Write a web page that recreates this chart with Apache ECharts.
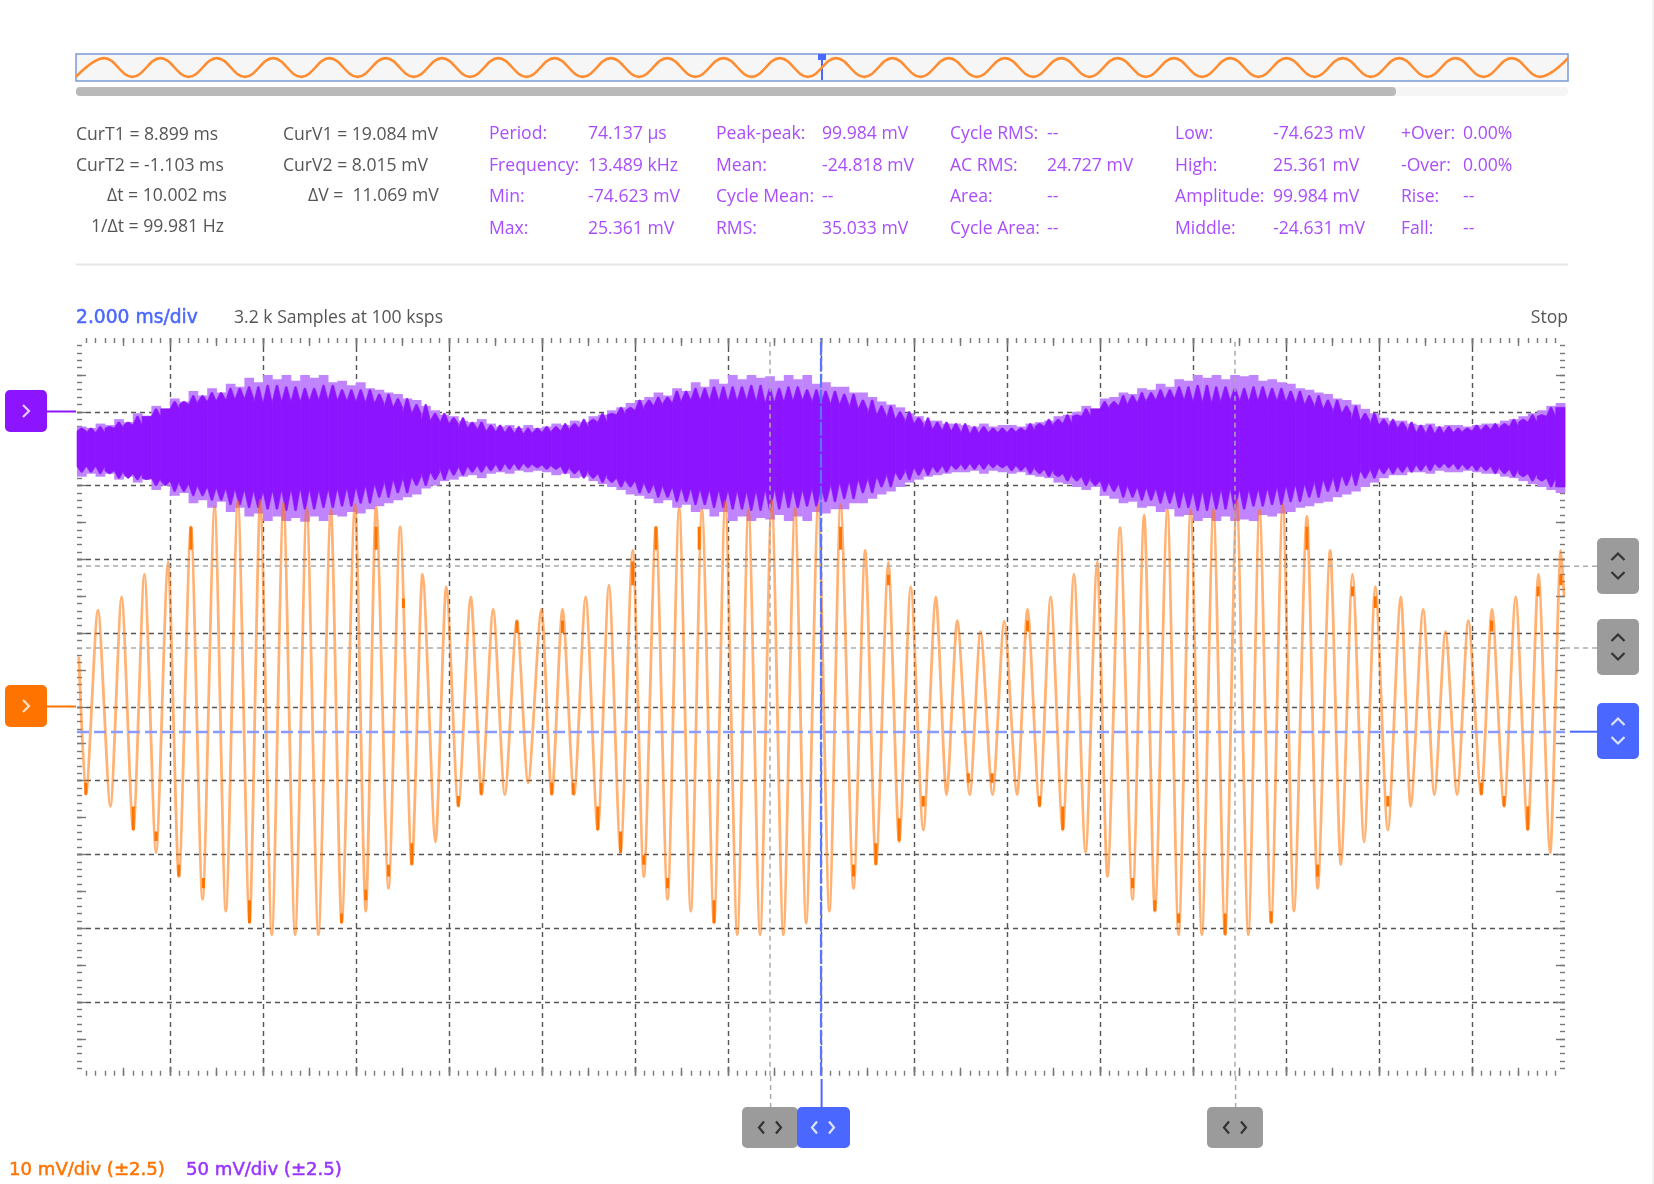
<!DOCTYPE html>
<html>
<head>
<meta charset="utf-8">
<title>Scope capture</title>
<script src="https://cdn.jsdelivr.net/npm/echarts@6/dist/echarts.min.js"></script>
<style>
html, body { margin: 0; padding: 0; background: #fff; }
#chart { width: 1654px; height: 1184px; }
</style>
</head>
<body>
<div id="chart"></div>
<script>
/* ── Readouts ── */
var cursorLines = [
  ['CurT1 = 8.899 ms', 76, 135], ['CurT2 = -1.103 ms', 76, 166],
  ['\u0394t = 10.002 ms', 107, 196], ['1/\u0394t = 99.981 Hz', 91, 227],
  ['CurV1 = 19.084 mV', 283, 135], ['CurV2 = 8.015 mV', 283, 166],
  ['\u0394V =  11.069 mV', 308, 196]
];
var statLabels = [
  ['Period:', 'Frequency:', 'Min:', 'Max:'],
  ['Peak-peak:', 'Mean:', 'Cycle Mean:', 'RMS:'],
  ['Cycle RMS:', 'AC RMS:', 'Area:', 'Cycle Area:'],
  ['Low:', 'High:', 'Amplitude:', 'Middle:'],
  ['+Over:', '-Over:', 'Rise:', 'Fall:']
];
var statValues = [
  ['74.137 \u00b5s', '13.489 kHz', '-74.623 mV', '25.361 mV'],
  ['99.984 mV', '-24.818 mV', '--', '35.033 mV'],
  ['--', '24.727 mV', '--', '--'],
  ['-74.623 mV', '25.361 mV', '99.984 mV', '-24.631 mV'],
  ['0.00%', '0.00%', '--', '--']
];

/* ── Cursors: ms on the time axis, mV on the orange channel ── */
var triggerT = 0, cursorT1 = 8.899, cursorT2 = -1.103;
var triggerV = -3.35, cursorV1 = 19.084, cursorV2 = 8.015;

/* ── Overview strip, turning points ── */
var overviewWave = [
  -1,1,-1,1,-1,1,-1,1,-1,1,-1,1,-1,1,-1,1,-1,1,-1,1,-1,1,-1,1,-1,1,-1,
  1,-1,1,-1,1,-1,1,-1,1,-1,1,-1,1,-1,1,-1,1,-1,1,-1,1,-1,1,-1,1,-1,1
];

/* ── Orange channel: turning points (ms, mV) ── */
var orangeT = [
  -15.96,-15.81,-15.55,-15.28,-15.04,-14.79,-14.55,-14.30,-14.04,-13.81,-13.55,-13.30,-13.04,-12.80,-12.54,-12.29,
  -12.06,-11.81,-11.56,-11.31,-11.06,-10.81,-10.54,-10.31,-10.02,-9.79,-9.57,-9.30,-9.05,-8.80,-8.57,-8.29,-8.06,
  -7.80,-7.53,-7.30,-7.05,-6.80,-6.54,-6.30,-6.01,-5.79,-5.56,-5.31,-5.06,-4.80,-4.56,-4.31,-4.05,-3.81,-3.55,-3.30,
  -3.05,-2.80,-2.56,-2.30,-2.06,-1.80,-1.56,-1.31,-1.06,-0.81,-0.56,-0.32,-0.06,
  0.18,0.42,0.70,0.95,1.18,1.45,1.68,1.93,2.20,2.47,2.70,2.93,3.20,3.43,3.69,3.94,4.22,4.44,4.70,4.94,5.20,5.44,5.69,
  5.94,6.16,6.43,6.70,6.95,7.18,7.45,7.69,7.95,8.19,8.44,8.69,8.94,9.19,9.43,9.68,9.93,10.17,10.45,10.68,10.95,11.18,
  11.43,11.68,11.92,12.19,12.47,12.68,12.95,13.19,13.43,13.68,13.92,14.20,14.43,14.69,14.94,15.20,15.43,15.68,15.91,15.98
];
var orangeV = [
  6.8,-11.9,13.1,-13.5,14.9,-16.7,18.0,-19.8,19.6,-23.0,24.4,-26.1,27.1,-27.7,27.9,-29.3,
  28.0,-30.9,27.6,-30.9,26.9,-30.9,26.7,-29.3,27.4,-27.7,27.1,-24.6,24.4,-21.4,18.0,-18.3,16.3,
  -13.5,14.9,-11.9,13.2,-11.9,11.7,-10.3,13.2,-11.9,13.2,-11.9,14.9,-16.7,16.5,-19.8,21.2,-23.0,24.4,-26.1,
  26.9,-27.7,26.7,-29.3,27.8,-30.9,26.7,-30.9,28.0,-30.9,26.9,-29.3,27.4,
  -27.7,27.4,-24.6,21.2,-21.4,19.6,-18.3,16.3,-16.7,14.9,-11.9,11.7,-11.9,10.2,-11.9,11.6,-11.9,13.2,-13.5,14.9,-16.7,18.0,-19.8,
  19.6,-23.0,24.3,-26.1,26.0,-27.7,26.7,-30.9,26.7,-30.9,26.7,-30.9,28.0,-30.9,26.7,-29.3,27.4,-27.7,25.8,-24.6,21.2,-21.4,
  18.0,-18.3,16.3,-16.7,14.9,-13.5,13.2,-11.9,10.2,-11.9,11.7,-11.9,13.2,-13.5,14.9,-16.7,18.0,-19.8,21.2,15.0
];

/* short solid runs on the orange trace (ms, mV top, mV bottom) */
var runT = [
  -15.81,-14.79,-14.30,-13.81,-13.55,-13.28,-12.29,-10.31,-9.79,-9.57,-9.30,-8.98,-8.80,
  -7.80,-7.31,-6.54,-5.79,-5.56,-5.33,-4.80,-4.31,-4.05,-3.81,-3.55,-3.30,-2.62,-2.30,
  0.42,0.70,1.18,1.45,1.68,2.20,3.17,3.68,4.44,4.70,5.20,6.70,7.18,7.69,
  8.69,9.68,10.45,10.68,11.43,11.92,12.19,14.20,14.42,14.69,15.20,15.42,15.91
];
var runHi = [
  -10.3,-13.5,-16.9,-21.4,24.4,-23.2,-26.2,-28.0,-24.8,24.4,-21.4,14.7,-18.5,
  -12.1,-10.3,11.7,-10.3,11.7,-10.3,-13.5,-16.9,19.7,-20.1,24.4,-23.2,24.4,-26.2,
  24.4,-21.4,-18.5,17.9,-15.1,-12.1,-9.0,-9.0,11.7,-12.1,-13.5,-23.2,-26.2,-28.0,
  -28.0,-27.7,24.4,-21.4,16.3,15.0,-12.1,-10.3,11.7,-12.1,-13.5,16.3,17.9
];
var runLo = [
  -11.9,-16.7,-18.2,-23.0,21.3,-24.6,-29.3,-29.3,-26.2,21.3,-23.0,13.4,-21.4,
  -13.5,-11.9,10.0,-11.9,10.0,-11.9,-16.7,-19.8,16.5,-21.4,21.3,-24.6,21.3,-29.3,
  21.3,-23.0,-21.4,16.5,-18.2,-13.5,-10.3,-10.3,10.2,-13.5,-16.7,-24.6,-27.7,-29.3,
  -30.9,-29.3,21.3,-23.0,15.0,13.4,-13.5,-11.9,10.2,-13.5,-16.7,15.0,16.5
];

/* ── Purple channel: envelope per 0.2 ms column, starting at -16 ms (mV) ── */
var purpleStep = 0.2;
var purpleOuterTop = [
  -10,-11,-8,-9,-5,-7,-1,-3,4,2,9,7,14,11,16,13,19,17,23,20,25,22,25,21,25,23,25,20,21,18,20,16,15,13,12,9,8,4,1,-2,-3,-6,-7,-5,-8,-10,-9,-11,-9,-11,
  -10,-8,-9,-6,-7,-3,-2,1,3,6,8,10,13,11,16,14,20,17,22,19,25,22,25,23,24,21,25,22,25,19,20,17,17,13,13,10,7,5,3,-1,-3,-6,-6,-8,-8,-9,-10,-8,-10,-9,
  -9,-10,-8,-7,-6,-3,-2,0,4,2,9,10,13,12,16,15,19,17,22,21,25,23,25,22,25,24,25,21,22,20,19,16,15,13,12,9,8,5,2,-1,-4,-6,-6,-8,-9,-8,-10,-9,-9,-10,
  -9,-8,-8,-6,-5,-3,-1,1,4,6
];
var purpleOuterBot = [
  -44,-42,-44,-42,-46,-44,-48,-46,-53,-50,-57,-55,-62,-60,-65,-61,-68,-65,-71,-69,-74,-71,-74,-72,-74.6,-71,-74,-70,-71,-68,-69,-66,-64,-62,-60,-58,-56,-52,-50,-47,-46,-44,-43,-45,-42,-41,-42,-40,-41,-40,
  -41,-43,-42,-45,-44,-47,-49,-51,-53,-56,-57,-59,-62,-60,-65,-63,-68,-66,-71,-68,-74,-71,-74,-72,-73,-70,-74,-71,-74,-68,-69,-66,-66,-62,-62,-59,-56,-54,-51,-48,-46,-44,-43,-42,-41,-41,-40,-42,-40,-41,
  -42,-41,-43,-44,-45,-48,-49,-51,-53,-51,-57,-59,-62,-61,-65,-64,-68,-66,-71,-70,-74,-72,-74,-71,-74,-73,-74,-70,-71,-69,-68,-65,-64,-62,-61,-58,-56,-54,-51,-48,-45,-43,-43,-41,-41,-42,-40,-41,-41,-40,
  -41,-42,-42,-44,-45,-47,-49,-51,-53,-55
];
var purpleInnerTop = [
  -13,-11,-14,-10,-11,-7,-9,-3,-3,2,2,7,5,11,7,13,8,16,9,17,6,18,7,17,7,16,8,18,8,15,7,15,6,12,3,9,-1,5,-6,-1,-8,-4,-11,-7,-13,-9,-14,-10,-15,-11,
  -14,-10,-13,-8,-11,-5,-7,-1,-2,3,1,8,4,10,6,14,8,16,8,17,7,17,8,18,6,16,7,17,8,15,6,14,5,12,2,8,-2,4,-5,0,-8,-4,-12,-7,-13,-8,-15,-10,-14,-11,
  -14,-11,-13,-8,-10,-5,-8,-2,-3,2,2,7,4,11,6,13,8,15,9,17,7,18,6,17,8,16,7,17,8,16,7,14,5,11,2,8,-1,4,-6,-1,-9,-5,-11,-7,-14,-9,-15,-10,-14,-11,
  -13,-9,-12,-8,-10,-5,-7,-2,-3,3
];
var purpleInnerBot = [
  -37,-41,-37,-42,-40,-45,-42,-46,-45,-50,-47,-54,-49,-57,-51,-60,-52,-63,-53,-65,-54,-66,-53,-67,-52,-66,-53,-65,-52,-64,-51,-62,-49,-58,-46,-55,-44,-50,-41,-46,-38,-43,-37,-41,-36,-40,-35,-39,-35,-38,
  -36,-39,-37,-42,-39,-45,-42,-48,-45,-51,-47,-55,-49,-58,-51,-61,-52,-63,-53,-65,-53,-66,-54,-67,-53,-66,-52,-65,-53,-64,-51,-61,-48,-59,-46,-55,-44,-51,-41,-46,-38,-43,-37,-41,-36,-39,-35,-39,-35,-38,
  -36,-40,-37,-42,-39,-44,-42,-47,-44,-50,-47,-54,-49,-58,-51,-60,-52,-62,-53,-65,-54,-67,-53,-66,-52,-66,-53,-64,-52,-63,-50,-61,-49,-58,-46,-54,-43,-50,-40,-45,-38,-42,-37,-41,-36,-40,-35,-38,-35,-39,
  -36,-40,-37,-42,-39,-44,-42,-47,-45,-51
];

/* ── Colours ── */
var ORANGE = '#ff7300', PURPLE = '#8c14ff', BLUE = '#4a68ff', GREY_BTN = '#9b9b9b';
var TEXT = '#555', STAT = '#a94dff', FONT = '"Open Sans"';

/* ── Layout of the scope area ── */
var PLOT = { left: 77, top: 338, width: 1488, height: 737.7 };

function textEl(str, x, y, fill, font, align, stroke) {
  return { type: 'text', silent: true, style: { text: str, x: x, y: y, fill: fill, font: font, align: align || 'left', verticalAlign: 'middle', stroke: stroke || null, lineWidth: stroke ? 0.5 : 0 } };
}
function lineEl(x1, y1, x2, y2, color, width, dash) {
  return { type: 'line', silent: true, shape: { x1: x1, y1: y1, x2: x2, y2: y2 }, style: { stroke: color, lineWidth: width, lineDash: dash || null } };
}
function btnEl(x, y, w, h, fill) {
  return { type: 'rect', silent: true, shape: { x: x, y: y, width: w, height: h, r: 5 }, style: { fill: fill } };
}
function chevron(points, color) {
  return { type: 'polyline', silent: true, shape: { points: points }, style: { stroke: color, lineWidth: 2.2, fill: null } };
}
function upDown(cx, cy, color) {
  return [
    chevron([[cx - 6.5, cy - 6], [cx, cy - 12.5], [cx + 6.5, cy - 6]], color),
    chevron([[cx - 6.5, cy + 6], [cx, cy + 12.5], [cx + 6.5, cy + 6]], color)
  ];
}
function leftRight(cx, cy, color) {
  return [
    chevron([[cx - 6, cy - 6], [cx - 11, cy], [cx - 6, cy + 6]], color),
    chevron([[cx + 6, cy - 6], [cx + 11, cy], [cx + 6, cy + 6]], color)
  ];
}

/* ── Everything around the plot: text, scrollbar, handles ── */
function buildChrome() {
  var g = [];
  var baseFont = '17.6px ' + FONT;
  var headFont = '18.7px "DejaVu Sans"';
  var scaleFont = '18.1px "DejaVu Sans"';
  cursorLines.forEach(function(r) { g.push(textEl(r[0], r[1], r[2], TEXT, baseFont)); });

  var labelX = [489, 716, 950, 1175, 1401], valueX = [588, 822, 1047, 1273, 1463];
  var rowY = [134, 166, 197, 229];
  statLabels.forEach(function(col, c) {
    col.forEach(function(label, r) {
      g.push(textEl(label, labelX[c], rowY[r], STAT, baseFont));
      g.push(textEl(statValues[c][r], valueX[c], rowY[r], STAT, baseFont));
    });
  });

  // scrollbar + separator
  g.push({ type: 'rect', silent: true, shape: { x: 76, y: 87, width: 1492, height: 9, r: 4 }, style: { fill: '#f5f5f5' } });
  g.push({ type: 'rect', silent: true, shape: { x: 76, y: 87, width: 1320, height: 9, r: 4 }, style: { fill: '#b9b9b9' } });
  g.push(lineEl(76, 264.5, 1568, 264.5, '#e6e6e6', 2));
  g.push({ type: 'rect', silent: true, shape: { x: 1652, y: 0, width: 2, height: 1184 }, style: { fill: '#f2f2f2' } });

  // overview cursor
  g.push(lineEl(822, 55, 822, 80, BLUE, 2));
  g.push({ type: 'rect', silent: true, shape: { x: 818, y: 54, width: 8, height: 6 }, style: { fill: BLUE } });

  // heading line
  g.push(textEl('2.000 ms/div', 76, 318, BLUE, headFont, 'left', BLUE));
  g.push(textEl('3.2 k Samples at 100 ksps', 234, 318, TEXT, baseFont));
  g.push(textEl('Stop', 1568, 318, TEXT, baseFont, 'right'));

  // channel handles, left
  g.push(lineEl(47, 411.5, 76, 411.5, PURPLE, 2));
  g.push(lineEl(47, 706.5, 76, 706.5, ORANGE, 2));
  g.push(btnEl(5, 390, 42, 42, PURPLE));
  g.push(btnEl(5, 685, 42, 42, ORANGE));
  g.push(chevron([[23, 405], [29, 411], [23, 417]], '#e4ccff'));
  g.push(chevron([[23, 700], [29, 706], [23, 712]], '#ffe0c4'));

  // level handles, right
  g.push(lineEl(1565, 566.3, 1597, 566.3, '#aaa', 1.5, [5, 4]));
  g.push(lineEl(1565, 648, 1597, 648, '#aaa', 1.5, [5, 4]));
  g.push(lineEl(1570, 731.7, 1597, 731.7, BLUE, 2));
  g.push(btnEl(1597, 538, 42, 56, GREY_BTN));
  g.push(btnEl(1597, 619, 42, 56, GREY_BTN));
  g.push(btnEl(1597, 703, 42, 56, BLUE));
  g = g.concat(upDown(1618, 566, '#333'), upDown(1618, 647, '#333'), upDown(1618, 731, '#dde3ff'));

  // time handles, bottom
  g.push(lineEl(770.6, 1076, 770.6, 1107, '#aaa', 1.5, [5, 4]));
  g.push(lineEl(1235.6, 1076, 1235.6, 1107, '#aaa', 1.5, [5, 4]));
  g.push(lineEl(821.6, 1079, 821.6, 1107, BLUE, 2));
  g.push(btnEl(742, 1107, 56, 41, GREY_BTN));
  g.push(btnEl(1207, 1107, 56, 41, GREY_BTN));
  g.push(btnEl(797, 1107, 53, 41, BLUE));
  g = g.concat(leftRight(770, 1127.5, '#333'), leftRight(1235, 1127.5, '#333'), leftRight(823, 1127.5, '#dde3ff'));

  // channel scales
  g.push(textEl('10 mV/div (\u00b12.5)', 9, 1170, ORANGE, scaleFont, 'left', ORANGE));
  g.push(textEl('50 mV/div (\u00b12.5)', 186, 1170, '#9a33ff', scaleFont, 'left', '#9a33ff'));
  return g;
}

/* ── Axes: division grid + tick rulers on all four edges ── */
var TICK = '#777';
// tick positions without the two ends, the scope leaves its corners empty
function innerTicks(min, max, step) {
  var out = [];
  for (var v = min + step; v < max; v += step) out.push(v);
  return out;
}
// the split lines follow customValues, so the ends are already gone there
var gridLine = { show: true, showMinLine: true, showMaxLine: true, lineStyle: { color: '#555', width: 1.4, type: [5, 4] } };
function timeAxis(gridIndex, position, interval, tickLen, minor, showGrid) {
  return {
    type: 'value', gridIndex: gridIndex, position: position, min: -16, max: 16, interval: interval,
    axisLine: { show: false, onZero: false }, axisLabel: { show: false },
    axisTick: { show: true, inside: true, length: tickLen, customValues: innerTicks(-16, 16, interval), lineStyle: { color: tickLen > 8 ? '#555' : TICK, width: 1.4 } },
    minorTick: { show: minor, splitNumber: 10, length: 5, lineStyle: { color: TICK, width: 1.4 } },
    splitLine: showGrid ? gridLine : { show: false }
  };
}
function levelAxis(gridIndex, position, min, max, interval, minorSplit, tickLen, showGrid) {
  return {
    type: 'value', gridIndex: gridIndex, position: position, min: min, max: max, interval: interval,
    axisLine: { show: false, onZero: false }, axisLabel: { show: false },
    axisTick: { show: tickLen > 0, inside: true, length: tickLen, customValues: innerTicks(min, max, interval), lineStyle: { color: TICK, width: 1.4 } },
    minorTick: { show: minorSplit > 0, splitNumber: minorSplit || 5, length: 5, lineStyle: { color: TICK, width: 1.4 } },
    splitLine: showGrid ? gridLine : { show: false }
  };
}

/* ── Purple channel drawn through the axis scales ── */
var purpleData = purpleOuterTop.map(function(v, i) {
  var j = Math.min(i + 1, purpleOuterTop.length - 1);
  var hi = purpleInnerTop, lo = purpleInnerBot;
  return [-16 + i * purpleStep, v, purpleOuterBot[i],
    Math.max(hi[i], hi[j]), Math.min(lo[i], lo[j]),
    Math.min(hi[i], hi[j]), Math.max(lo[i], lo[j])];
});
function renderOuter(params, api) {
  var t = api.value(0);
  var a = api.coord([t, api.value(1)]), b = api.coord([t + purpleStep, api.value(2)]);
  return { type: 'rect', shape: { x: a[0], y: a[1], width: b[0] - a[0] + 0.4, height: b[1] - a[1] }, style: { fill: '#c084ff' } };
}
function renderInner(params, api) {
  // one column: a solid core with a narrow spike above and below it
  var t = api.value(0), n = t + purpleStep;
  var m1 = t + purpleStep * 0.42, m2 = t + purpleStep * 0.58;
  var tip = api.value(3), tipLow = api.value(4), core = api.value(5), coreLow = api.value(6);
  return {
    type: 'polygon',
    shape: { points: [
      api.coord([t, core]), api.coord([m1, tip]), api.coord([m2, tip]), api.coord([n, core]),
      api.coord([n, coreLow]), api.coord([m2, tipLow]), api.coord([m1, tipLow]), api.coord([t, coreLow])
    ] },
    style: { fill: PURPLE, stroke: PURPLE, lineWidth: 0.6 }
  };
}

var orangeData = orangeT.map(function(t, i) { return [t, orangeV[i]]; });
var runData = [];
runT.forEach(function(t, i) { runData.push([t, runHi[i]], [t, runLo[i]], null); });

var chart = echarts.init(document.getElementById('chart'));
chart.setOption({
  backgroundColor: '#fff',
  animation: false,
  grid: [
    { left: PLOT.left, top: PLOT.top, width: PLOT.width, height: PLOT.height },
    { left: PLOT.left, top: PLOT.top, width: PLOT.width, height: PLOT.height },
    { left: 76, top: 54, width: 1492, height: 27, show: true, backgroundColor: '#f6f6f6', borderColor: '#7b9bd6', borderWidth: 1.5 }
  ],
  xAxis: [
    timeAxis(0, 'bottom', 2, 9, true, true),
    timeAxis(0, 'top', 2, 9, true, false),
    timeAxis(1, 'bottom', 1, 8, false, false),
    timeAxis(1, 'top', 1, 8, false, false),
    { type: 'category', gridIndex: 2, boundaryGap: false, data: overviewWave.map(function(_, i) { return i; }), show: false }
  ],
  yAxis: [
    levelAxis(0, 'left', -50, 50, 10, 10, 5, true),
    levelAxis(0, 'right', -450, 50, 50, 10, 5, false),
    levelAxis(1, 'left', -50, 50, 5, 0, 9, false),
    levelAxis(1, 'right', -50, 50, 5, 0, 9, false),
    { type: 'value', gridIndex: 2, min: -1.44, max: 1.44, show: false }
  ],
  series: [
    { name: 'CH2 outer', type: 'custom', xAxisIndex: 0, yAxisIndex: 1, renderItem: renderOuter, data: purpleData, encode: { x: 0, y: [1, 2] }, silent: true, z: 2 },
    { name: 'CH2 inner', type: 'custom', xAxisIndex: 0, yAxisIndex: 1, renderItem: renderInner, data: purpleData, encode: { x: 0, y: [3, 4] }, silent: true, z: 3 },
    {
      name: 'CH1', type: 'line', xAxisIndex: 0, yAxisIndex: 0, data: orangeData, symbol: 'none',
      smooth: 0.25, smoothMonotone: 'x', silent: true, z: 4,
      lineStyle: { color: 'rgba(255,115,0,0.55)', width: 2.8 }
    },
    {
      name: 'CH1 runs', type: 'line', xAxisIndex: 0, yAxisIndex: 0, data: runData, symbol: 'none', connectNulls: false,
      silent: true, z: 5, lineStyle: { color: ORANGE, width: 3 }
    },
    {
      name: 'Cursors', type: 'line', xAxisIndex: 0, yAxisIndex: 0, data: [], silent: true, z: 6,
      markLine: {
        silent: true, symbol: 'none', label: { show: false }, animation: false,
        data: [
          { xAxis: cursorT2, lineStyle: { color: '#aaa', width: 1.5, type: [5, 4] } },
          { xAxis: cursorT1, lineStyle: { color: '#aaa', width: 1.5, type: [5, 4] } },
          { yAxis: cursorV1, lineStyle: { color: '#aaa', width: 1.5, type: [5, 4] } },
          { yAxis: cursorV2, lineStyle: { color: '#aaa', width: 1.5, type: [5, 4] } },
          { yAxis: triggerV, lineStyle: { color: '#8a9aff', width: 2.4, type: [12, 5] } },
          { xAxis: triggerT, lineStyle: { color: '#5a75ff', width: 2.2, type: [14, 2] } }
        ]
      }
    },
    {
      name: 'Overview', type: 'line', xAxisIndex: 4, yAxisIndex: 4, data: overviewWave, symbol: 'none',
      smooth: 0.4, smoothMonotone: 'x', silent: true, lineStyle: { color: '#ff8c30', width: 2.6 }
    }
  ],
  graphic: { elements: buildChrome() }
});
</script>
</body>
</html>
